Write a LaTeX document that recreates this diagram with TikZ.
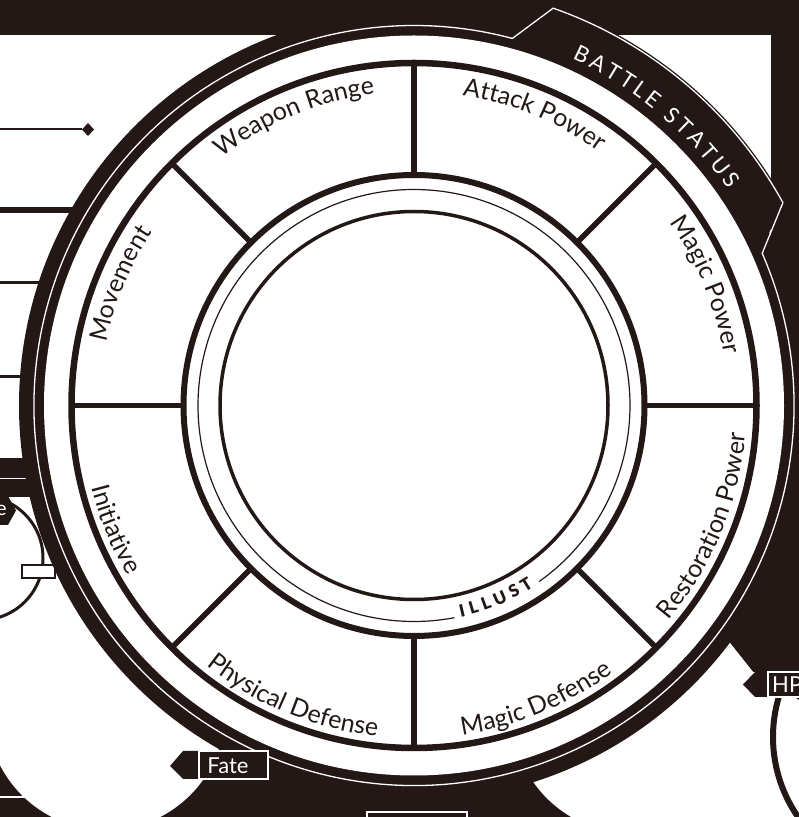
\documentclass[tikz,border=0pt]{standalone}
\usepackage{fontspec}
\setmainfont{Lato}
\newfontfamily\boldlato{Lato Black}
\usetikzlibrary{decorations.text}
\definecolor{ink}{RGB}{35,24,21}
\begin{document}
\begin{tikzpicture}[x=1pt,y=1pt,
  statout/.style={decorate,decoration={text along path,text align=center,text color=ink,
     text={|\fontsize{25}{25}\selectfont|#1}}},
  tagbox/.style={fill=ink},
  tagtext/.style={text=white,font=\fontsize{22}{22}\selectfont,inner sep=0pt},
]
\useasboundingbox (0,0) rectangle (799,817);
\clip (0,0) rectangle (799,817);
\fill[white] (0,0) rectangle (799,817);
% ---- black background regions
\fill[ink] (0,782) rectangle (799,817);
\fill[ink] (771,0) rectangle (799,817);
\fill[ink] (0,0) rectangle (799,77);
\fill[ink] (650,257) -- (799,257) -- (799,145) -- (753,145) -- (730,174) -- (650,217) -- cycle;
\fill[ink] (0,320) rectangle (60,359);
\draw[white,line width=1.3pt] (0,338.5) -- (40,338.5);
\draw[white,line width=1.2pt] (0,20) -- (40,20);
% ---- left rows
\draw[ink,line width=2pt] (0,687.5) -- (82,687.5);
\fill[ink] (88,694) -- (94,687.5) -- (88,681) -- (82,687.5) -- cycle;
\draw[ink,line width=6pt] (0,607) -- (120,607);
\draw[ink,line width=3pt] (0,534) -- (120,534);
\draw[ink,line width=3pt] (0,440.5) -- (120,440.5);
% ---- white areas
\fill[white] (106,106) circle (119);
\fill[white] (515,60) .. controls (530,30) and (545,12) .. (570,-3) -- (799,-3) -- (799,117)
   -- (753,145) -- (730,174) -- (650,217) -- cycle;
\draw[ink,line width=6pt] (515,60) .. controls (530,30) and (545,12) .. (570,-3);
\draw[ink,line width=6pt] (913,80) circle (140);
\filldraw[fill=white,draw=ink,line width=3pt] (-19,259) circle (62);
\filldraw[fill=white,draw=ink,line width=1.5pt] (22,239) rectangle (55,252);
\fill[ink] (-40,321) -- (8,321) -- (16,306.5) -- (8,292) -- (-40,292) -- cycle;
\node[text=white,font=\fontsize{20}{20}\selectfont,anchor=east,inner sep=0pt] (etag) at (7,306.5) {e};
% ---- ring and tab
\coordinate (C) at (414,411.5);
\begin{scope}[shift={(414,411.5)}]
  \fill[ink] (0,0) circle (395);
  \fill[ink] (75:375) -- (70.7:423) arc (70.7:28.8:423) -- (23.6:375) -- cycle;
  \fill[white] (0,0) circle (370);
  \draw[white,line width=1.3pt] (75:380) -- (70.7:421) arc (70.7:28.8:421) -- (23.6:380) arc (23.6:-285:380);
  \path[decorate,decoration={text along path,text align=fit to path,text color=white,
     text={|\fontsize{22}{22}\selectfont|BATTLE STATUS}}] (65.5:381) arc (65.5:34.5:381);
  % stat ring
  \draw[ink,line width=6.5pt] (0,0) circle (342.5);
  \draw[ink,line width=6pt] (0,0) circle (230.5);
  \foreach \a in {0,45,...,315} \draw[ink,line width=5.5pt] (\a:230) -- (\a:343);
  \draw[ink,line width=1.2pt] (-54.6:216) arc (-54.6:280.8:216);
  \draw[ink,line width=3.5pt] (0,0) circle (194);
  \path[decorate,decoration={text along path,text align=fit to path,text color=ink,
     text={|\boldlato\fontsize{17}{17}\selectfont|ILLUST}}] (-77.5:217) arc (-77.5:-56.5:217);
  % stat labels
  \path[statout=Weapon Range] (135:314) arc (135:90:314);
  \path[statout=Attack Power] (90:314) arc (90:45:314);
  \path[statout=Magic Power] (45:314) arc (45:0:314);
  \path[statout=Movement] (180:314) arc (180:135:314);
  \path[statout=Restoration Power] (-45:333) arc (-45:0:333);
  \path[statout=Magic Defense] (-90:333) arc (-90:-45:333);
  \path[statout=Physical Defense] (-135:333) arc (-135:-90:333);
  \path[statout=Initiative] (-180:333) arc (-180:-135:333);
\end{scope}
% ---- tags
\fill[tagbox] (170,51) -- (183,66) -- (268,66) -- (268,38) -- (183,38) -- cycle;
\draw[white,line width=1.2pt] (199,38) rectangle (268,66);
\node[tagtext] (fate) at (228,51) {Fate};
\fill[tagbox] (367,-5) rectangle (467,5);
\draw[white,line width=1.2pt] (367,-5) rectangle (467,5);
\fill[tagbox] (743,132.5) -- (755,145) -- (805,145) -- (805,120) -- (755,120) -- cycle;
\draw[white,line width=1.2pt] (768,120) rectangle (810,145);
\node[tagtext,anchor=west] (hp) at (772,132.5) {HP};
\end{tikzpicture}
\end{document}
